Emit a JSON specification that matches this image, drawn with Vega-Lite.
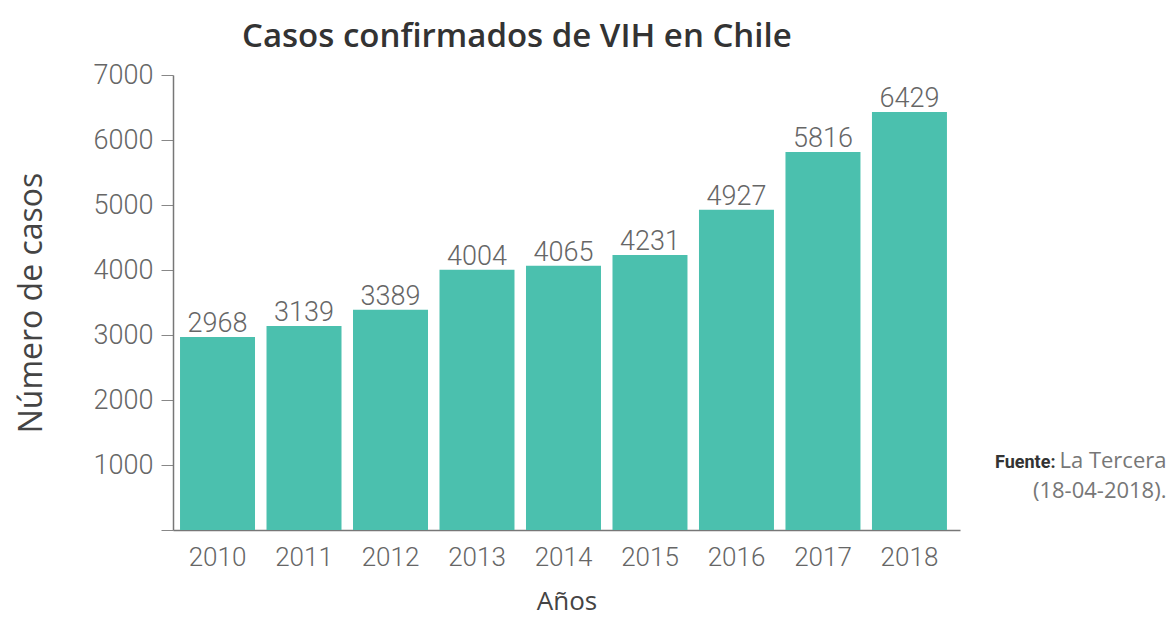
{
  "$schema": "https://vega.github.io/schema/vega-lite/v6.json",
  "autosize": "none",
  "width": 787,
  "height": 455,
  "padding": {"left": 173, "top": 75, "right": 214, "bottom": 89},
  "background": "white",
  "title": {
    "text": "Casos confirmados de VIH en Chile",
    "anchor": "start",
    "frame": "group",
    "dx": 69,
    "offset": 7,
    "font": "Open Sans",
    "fontSize": 33,
    "fontWeight": 600,
    "color": "#333333"
  },
  "config": {
    "view": {"stroke": null},
    "font": "Open Sans"
  },
  "data": {
    "values": [
      {"anio": "2010", "casos": 2968},
      {"anio": "2011", "casos": 3139},
      {"anio": "2012", "casos": 3389},
      {"anio": "2013", "casos": 4004},
      {"anio": "2014", "casos": 4065},
      {"anio": "2015", "casos": 4231},
      {"anio": "2016", "casos": 4927},
      {"anio": "2017", "casos": 5816},
      {"anio": "2018", "casos": 6429}
    ]
  },
  "encoding": {
    "x": {
      "field": "anio",
      "type": "nominal",
      "scale": {"paddingInner": 0.133, "paddingOuter": 0.116, "align": 0.35},
      "axis": {
        "title": "Años",
        "titleFont": "Open Sans",
        "titleFontSize": 26,
        "titleFontWeight": "normal",
        "titleColor": "#444444",
        "titlePadding": 18,
        "labelAngle": 0,
        "labelFont": "Roboto",
        "labelFontSize": 26,
        "labelFontWeight": 300,
        "labelColor": "#666666",
        "labelPadding": 14,
        "ticks": false,
        "domainColor": "#777777",
        "domainWidth": 1.5
      }
    },
    "y": {
      "field": "casos",
      "type": "quantitative",
      "scale": {"domain": [0, 7000], "nice": false},
      "axis": {
        "title": "Número de casos",
        "titleFont": "Open Sans",
        "titleFontSize": 32,
        "titleFontWeight": "normal",
        "titleColor": "#444444",
        "titlePadding": 45,
        "values": [0, 1000, 2000, 3000, 4000, 5000, 6000, 7000],
        "labelExpr": "datum.value === 0 ? '' : format(datum.value, 'd')",
        "labelFont": "Roboto",
        "labelFontSize": 27,
        "labelFontWeight": 300,
        "labelColor": "#666666",
        "labelPadding": 8,
        "tickSize": 12,
        "tickColor": "#888888",
        "domainColor": "#777777",
        "domainWidth": 1.5,
        "grid": false
      }
    }
  },
  "layer": [
    {
      "mark": {"type": "bar", "color": "#4BC0AE"}
    },
    {
      "mark": {"type": "text", "baseline": "alphabetic", "dy": -5, "fontSize": 27, "fontWeight": 300, "color": "#666666", "font": "Roboto"},
      "encoding": {"text": {"field": "casos", "type": "quantitative", "format": "d"}}
    },
    {
      "data": {"values": [{"anio": "2018", "casos": 1000, "t1": "Fuente:", "t2": "La Tercera", "t3": "(18-04-2018)."}]},
      "layer": [
        {
          "mark": {"type": "text", "align": "right", "baseline": "alphabetic", "dx": 146, "dy": 3, "fontSize": 18, "fontWeight": "bold", "color": "#333333", "font": "Roboto"},
          "encoding": {"text": {"field": "t1"}}
        },
        {
          "mark": {"type": "text", "align": "right", "baseline": "alphabetic", "dx": 257, "dy": 3, "fontSize": 22, "color": "#777777", "font": "Open Sans"},
          "encoding": {"text": {"field": "t2"}}
        },
        {
          "mark": {"type": "text", "align": "right", "baseline": "alphabetic", "dx": 257, "dy": 33, "fontSize": 22, "color": "#777777", "font": "Open Sans"},
          "encoding": {"text": {"field": "t3"}}
        }
      ]
    }
  ]
}
